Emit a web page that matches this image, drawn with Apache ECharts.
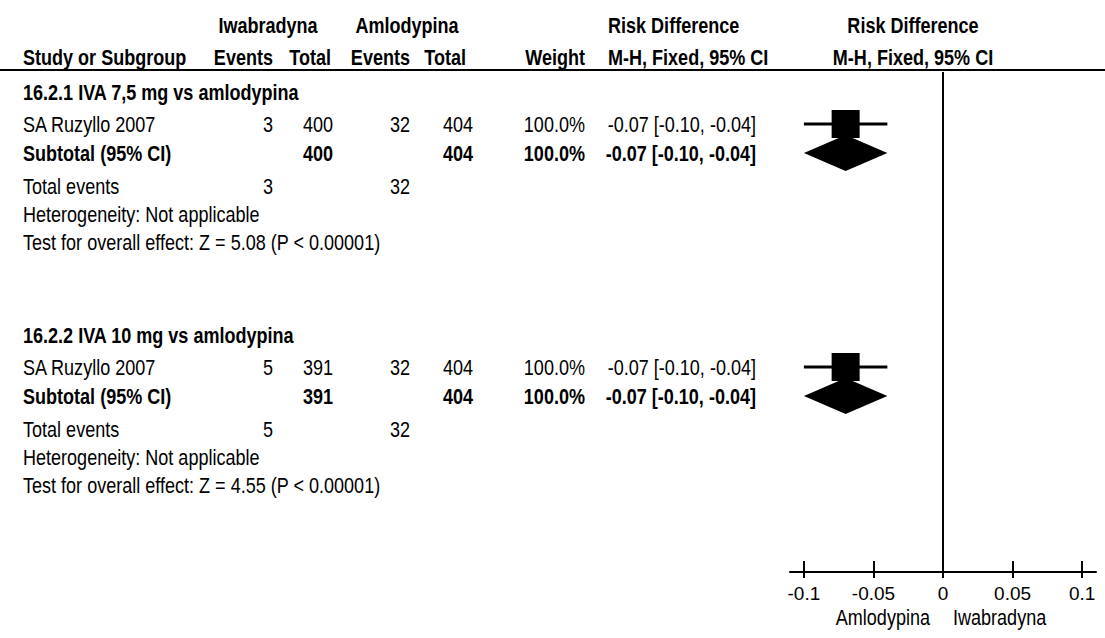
<!DOCTYPE html>
<html>
<head>
<meta charset="utf-8">
<title>Risk Difference – Iwabradyna vs Amlodypina</title>
<script src="https://cdn.jsdelivr.net/npm/echarts@6/dist/echarts.min.js"></script>
<style>
  html, body { margin: 0; padding: 0; background: #fff; }
  #chart { width: 1105px; height: 638px; }
</style>
</head>
<body>
<div id="chart"></div>
<script>
// ---- data ----
const subgroups     = ['16.2.1 IVA 7,5 mg vs amlodypina', '16.2.2 IVA 10 mg vs amlodypina'];
const studyNames    = ['SA Ruzyllo 2007', 'SA Ruzyllo 2007'];
const ivaEvents     = [3, 5];
const ivaTotals     = [400, 391];
const amlEvents     = [32, 32];
const amlTotals     = [404, 404];
const studyWeights  = [100.0, 100.0];
const studyRD       = [-0.07, -0.07];
const studyLow      = [-0.10, -0.10];
const studyHigh     = [-0.04, -0.04];
const subtotalRD    = [-0.07, -0.07];
const subtotalLow   = [-0.10, -0.10];
const subtotalHigh  = [-0.04, -0.04];
const heterogeneity = ['Not applicable', 'Not applicable'];
const zValues       = ['5.08', '4.55'];
const pValues       = ['P < 0.00001', 'P < 0.00001'];
const xTicks        = [-0.1, -0.05, 0, 0.05, 0.1];
const xTickLabels   = ['-0.1', '-0.05', '0', '0.05', '0.1'];
const favoursLeft   = 'Amlodypina';
const favoursRight  = 'Iwabradyna';

// ---- fonts: prefer a real narrow face, else squeeze the regular one ----
function hasFont(name) {
  const ctx = document.createElement('canvas').getContext('2d');
  const s = 'Study or Subgroup 0123456789';
  ctx.font = '40px monospace';
  const a = ctx.measureText(s).width;
  ctx.font = '40px "' + name + '", monospace';
  return Math.abs(ctx.measureText(s).width - a) > 0.5;
}
const NARROW = hasFont('Liberation Sans Narrow');
const FAMILY = NARROW ? '"Liberation Sans Narrow", "Liberation Sans", Arial, sans-serif'
                      : '"Liberation Sans", Arial, sans-serif';
const SX = NARROW ? 1 : 0.82;
const FS = 22;

// ---- layout ----
const W = 1105, H = 638;
const PLOT_TOP = 72, PLOT_BOTTOM = 572;
const Y_HEAD1 = 25, Y_HEAD2 = 57, Y_RULE = 70;
const GROUP_Y = [92, 335];
const OFF = { study: 32, subtotal: 61, events: 94, het: 122, test: 150 };
const COL = {
  study: 23,
  ivaEv: 273, ivaTotHead: 331, ivaTot: 333,
  amlEv: 410, amlTotHead: 466, amlTot: 473,
  weight: 585, ciHeadLeft: 608, ci: 756, forestHead: 913,
  ivaHead: 268, amlHead: 407
};
const BOX = 28;        // study square side
const DIAMOND_H = 18;  // half height of the pooled diamond

const fmt2 = v => v.toFixed(2);
const ciText = (e, l, h) => fmt2(e) + ' [' + fmt2(l) + ', ' + fmt2(h) + ']';

function txt(str, x, y, align, bold) {
  return {
    type: 'text', x: x, y: y, scaleX: SX, silent: true,
    style: {
      text: String(str), x: 0, y: 0,
      align: align, verticalAlign: 'middle',
      textAlign: align, textVerticalAlign: 'middle',
      font: (bold ? 'bold ' : '') + FS + 'px ' + FAMILY,
      fill: '#000'
    }
  };
}

// ---- forest marks (x = risk difference, y = row position) ----
const forestData = [];
subgroups.forEach((g, i) => {
  forestData.push([studyRD[i], studyLow[i], studyHigh[i], GROUP_Y[i] + OFF.study, 0]);
  forestData.push([subtotalRD[i], subtotalLow[i], subtotalHigh[i], GROUP_Y[i] + OFF.subtotal, 1]);
});

const chart = echarts.init(document.getElementById('chart'), null, { renderer: 'svg' });

const axisFont = { color: '#000', fontSize: NARROW ? 22 : 19, fontFamily: FAMILY };

chart.setOption({
  animation: false,
  backgroundColor: '#fff',
  grid: { left: 790, right: W - 1096, top: PLOT_TOP, bottom: H - PLOT_BOTTOM },
  xAxis: [
    {
      type: 'value', min: -0.11, max: 0.11, position: 'bottom',
      axisLine: { show: true, onZero: false, lineStyle: { color: '#000', width: 2 } },
      axisTick: { show: true, customValues: xTicks, length: 6, lineStyle: { color: '#000', width: 2 } },
      axisLabel: {
        show: true, customValues: xTicks, margin: 12, ...axisFont,
        formatter: v => {
          const k = xTicks.findIndex(t => Math.abs(t - v) < 1e-9);
          return k >= 0 ? xTickLabels[k] : '';
        }
      },
      splitLine: { show: false }
    },
    {
      type: 'value', min: -0.11, max: 0.11, position: 'bottom', offset: 0,
      axisLine: { show: false },
      axisTick: { show: true, inside: true, customValues: xTicks, length: 11, lineStyle: { color: '#000', width: 2 } },
      axisLabel: { show: false },
      splitLine: { show: false }
    }
  ],
  yAxis: { type: 'value', min: PLOT_TOP, max: PLOT_BOTTOM, inverse: true, show: false },
  series: [{
    type: 'custom',
    xAxisIndex: 0,
    data: forestData,
    silent: true,
    renderItem: (params, api) => {
      const est = api.value(0), lo = api.value(1), hi = api.value(2), y = api.value(3), kind = api.value(4);
      const pE = api.coord([est, y]), pL = api.coord([lo, y]), pH = api.coord([hi, y]);
      if (kind === 0) {
        return {
          type: 'group',
          children: [
            { type: 'line', shape: { x1: pL[0], y1: pL[1], x2: pH[0], y2: pH[1] }, style: { stroke: '#000', lineWidth: 3 } },
            { type: 'rect', shape: { x: pE[0] - BOX / 2, y: pE[1] - BOX / 2, width: BOX, height: BOX }, style: { fill: '#000' } }
          ]
        };
      }
      return {
        type: 'polygon',
        shape: { points: [[pL[0], pE[1]], [pE[0], pE[1] - DIAMOND_H], [pH[0], pE[1]], [pE[0], pE[1] + DIAMOND_H]] },
        style: { fill: '#000' }
      };
    },
    markLine: {
      silent: true, symbol: 'none', animation: false,
      label: { show: false },
      lineStyle: { color: '#000', width: 2, type: 'solid' },
      data: [{ xAxis: 0 }]
    }
  }]
});

// ---- table text ----
const g = [];
g.push({ type: 'line', silent: true, shape: { x1: 0, y1: Y_RULE, x2: W, y2: Y_RULE }, style: { stroke: '#000', lineWidth: 2 } });

g.push(txt('Iwabradyna', COL.ivaHead, Y_HEAD1, 'center', true));
g.push(txt('Amlodypina', COL.amlHead, Y_HEAD1, 'center', true));
g.push(txt('Risk Difference', COL.ciHeadLeft, Y_HEAD1, 'left', true));
g.push(txt('Risk Difference', COL.forestHead, Y_HEAD1, 'center', true));

g.push(txt('Study or Subgroup', COL.study, Y_HEAD2, 'left', true));
g.push(txt('Events', COL.ivaEv, Y_HEAD2, 'right', true));
g.push(txt('Total', COL.ivaTotHead, Y_HEAD2, 'right', true));
g.push(txt('Events', COL.amlEv, Y_HEAD2, 'right', true));
g.push(txt('Total', COL.amlTotHead, Y_HEAD2, 'right', true));
g.push(txt('Weight', COL.weight, Y_HEAD2, 'right', true));
g.push(txt('M-H, Fixed, 95% CI', COL.ciHeadLeft, Y_HEAD2, 'left', true));
g.push(txt('M-H, Fixed, 95% CI', COL.forestHead, Y_HEAD2, 'center', true));

subgroups.forEach((name, i) => {
  const y0 = GROUP_Y[i];
  const ys = y0 + OFF.study, yt = y0 + OFF.subtotal;
  g.push(txt(name, COL.study, y0, 'left', true));

  g.push(txt(studyNames[i], COL.study, ys, 'left', false));
  g.push(txt(ivaEvents[i], COL.ivaEv, ys, 'right', false));
  g.push(txt(ivaTotals[i], COL.ivaTot, ys, 'right', false));
  g.push(txt(amlEvents[i], COL.amlEv, ys, 'right', false));
  g.push(txt(amlTotals[i], COL.amlTot, ys, 'right', false));
  g.push(txt(studyWeights[i].toFixed(1) + '%', COL.weight, ys, 'right', false));
  g.push(txt(ciText(studyRD[i], studyLow[i], studyHigh[i]), COL.ci, ys, 'right', false));

  g.push(txt('Subtotal (95% CI)', COL.study, yt, 'left', true));
  g.push(txt(ivaTotals[i], COL.ivaTot, yt, 'right', true));
  g.push(txt(amlTotals[i], COL.amlTot, yt, 'right', true));
  g.push(txt(studyWeights[i].toFixed(1) + '%', COL.weight, yt, 'right', true));
  g.push(txt(ciText(subtotalRD[i], subtotalLow[i], subtotalHigh[i]), COL.ci, yt, 'right', true));

  g.push(txt('Total events', COL.study, y0 + OFF.events, 'left', false));
  g.push(txt(ivaEvents[i], COL.ivaEv, y0 + OFF.events, 'right', false));
  g.push(txt(amlEvents[i], COL.amlEv, y0 + OFF.events, 'right', false));

  g.push(txt('Heterogeneity: ' + heterogeneity[i], COL.study, y0 + OFF.het, 'left', false));
  g.push(txt('Test for overall effect: Z = ' + zValues[i] + ' (' + pValues[i] + ')', COL.study, y0 + OFF.test, 'left', false));
});

// favours labels on either side of the line of no effect
const zeroX = chart.convertToPixel({ xAxisIndex: 0 }, 0);
g.push(txt(favoursLeft, zeroX - 13, 617, 'right', false));
g.push(txt(favoursRight, zeroX + 10, 617, 'left', false));

chart.setOption({ graphic: { elements: g } });
</script>
</body>
</html>
